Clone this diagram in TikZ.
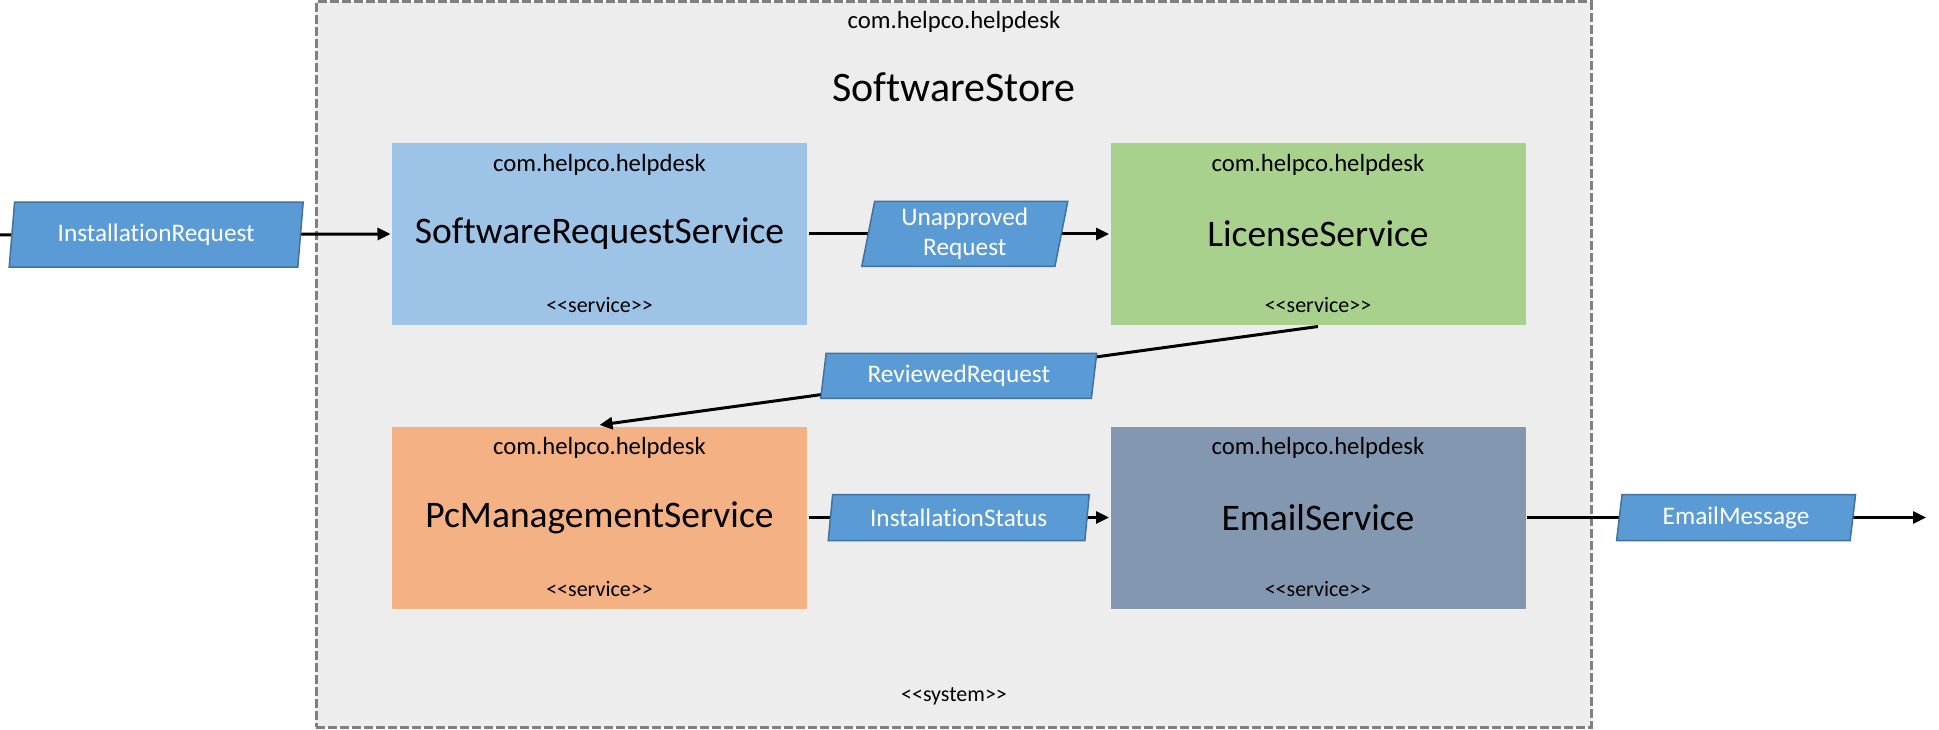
\documentclass[tikz,border=0pt]{standalone}
\usepackage{fontspec}
\setmainfont{Carlito}[Ligatures=NoCommon]
\usepackage{tikz}
\usetikzlibrary{arrows.meta,shapes.geometric,positioning}

\definecolor{storegray}{HTML}{EDEDED}
\definecolor{storeline}{HTML}{7F7F7F}
\definecolor{srsblue}{HTML}{9DC3E6}
\definecolor{licgreen}{HTML}{A9D18E}
\definecolor{pcmorange}{HTML}{F4B183}
\definecolor{emsslate}{HTML}{8497B0}
\definecolor{parblue}{HTML}{5B9BD5}
\definecolor{parline}{HTML}{41719C}

\newcommand{\stereotype}[1]{<\kern0pt<#1>\kern0pt>}

\begin{document}
\begin{tikzpicture}[x=1pt, y=-1pt, line width=3pt,
	svc/.style={inner sep=0pt, minimum width=415pt, minimum height=182pt, font=\fontsize{37.5}{45}\selectfont},
	pkg/.style={inner sep=0pt, font=\fontsize{24.7}{30}\selectfont},
	stype/.style={inner sep=0pt, font=\fontsize{22}{26}\selectfont},
	param/.style={trapezium, trapezium left angle=76, trapezium right angle=104, trapezium stretches body,
		fill=parblue, draw=parline, line width=1.5pt, text=white, align=center, inner sep=0pt,
		font=\fontsize{25.3}{30}\selectfont},
	flow/.style={-{Triangle[length=13pt, width=12pt]}}]
	\useasboundingbox (0,0) rectangle (1939,730);

	\node (store) [draw=storeline, dash pattern=on 9pt off 3pt, fill=storegray, minimum width=1275pt, minimum height=725pt] at (953.5,364.5) {};
	\node (storepkg) [pkg] at (954,22) {com.helpco.helpdesk};
	\node (storename) [inner sep=0pt, font=\fontsize{42}{50}\selectfont] at (954,87) {SoftwareStore};
	\node (storetype) [stype] at (954,696) {\stereotype{system}};

	\node (srs) [svc, fill=srsblue] at (599.5,234) {SoftwareRequestService};
	\node (lic) [svc, fill=licgreen] at (1318,234) {LicenseService};
	\node (pcm) [svc, fill=pcmorange] at (599.5,517.5) {PcManagementService};
	\node (ems) [svc, fill=emsslate] at (1318,517.5) {EmailService};

	\foreach \s in {srs,lic,pcm,ems} {
		\node (\s-pkg) [pkg] at ([yshift=-23pt]\s.north) {com.helpco.helpdesk};
		\node (\s-type) [stype] at ([yshift=21pt]\s.south) {\stereotype{service}};
	}

	\coordinate (in) at (0,235);
	\coordinate (out) at (1926,517.5);

	\draw [flow] (in) -- (srs.west) node (ireq) [param, pos=0.4, minimum width=294pt, minimum height=65pt] {InstallationRequest};
	\draw [flow] (srs.east) -- (lic.west) node (ureq) [param, pos=0.52, minimum width=206pt, minimum height=65pt] {Unapproved\\Request};
	\draw [flow] (lic.south) -- (pcm.north) node (rreq) [param, midway, minimum width=276pt, minimum height=45pt] {ReviewedRequest};
	\draw [flow] (pcm.east) -- (ems.west) node (istat) [param, midway, minimum width=261pt, minimum height=46pt] {InstallationStatus};
	\draw [flow] (ems.east) -- (out) node (emsg) [param, pos=0.524, minimum width=239pt, minimum height=46pt] {EmailMessage};
\end{tikzpicture}
\end{document}
